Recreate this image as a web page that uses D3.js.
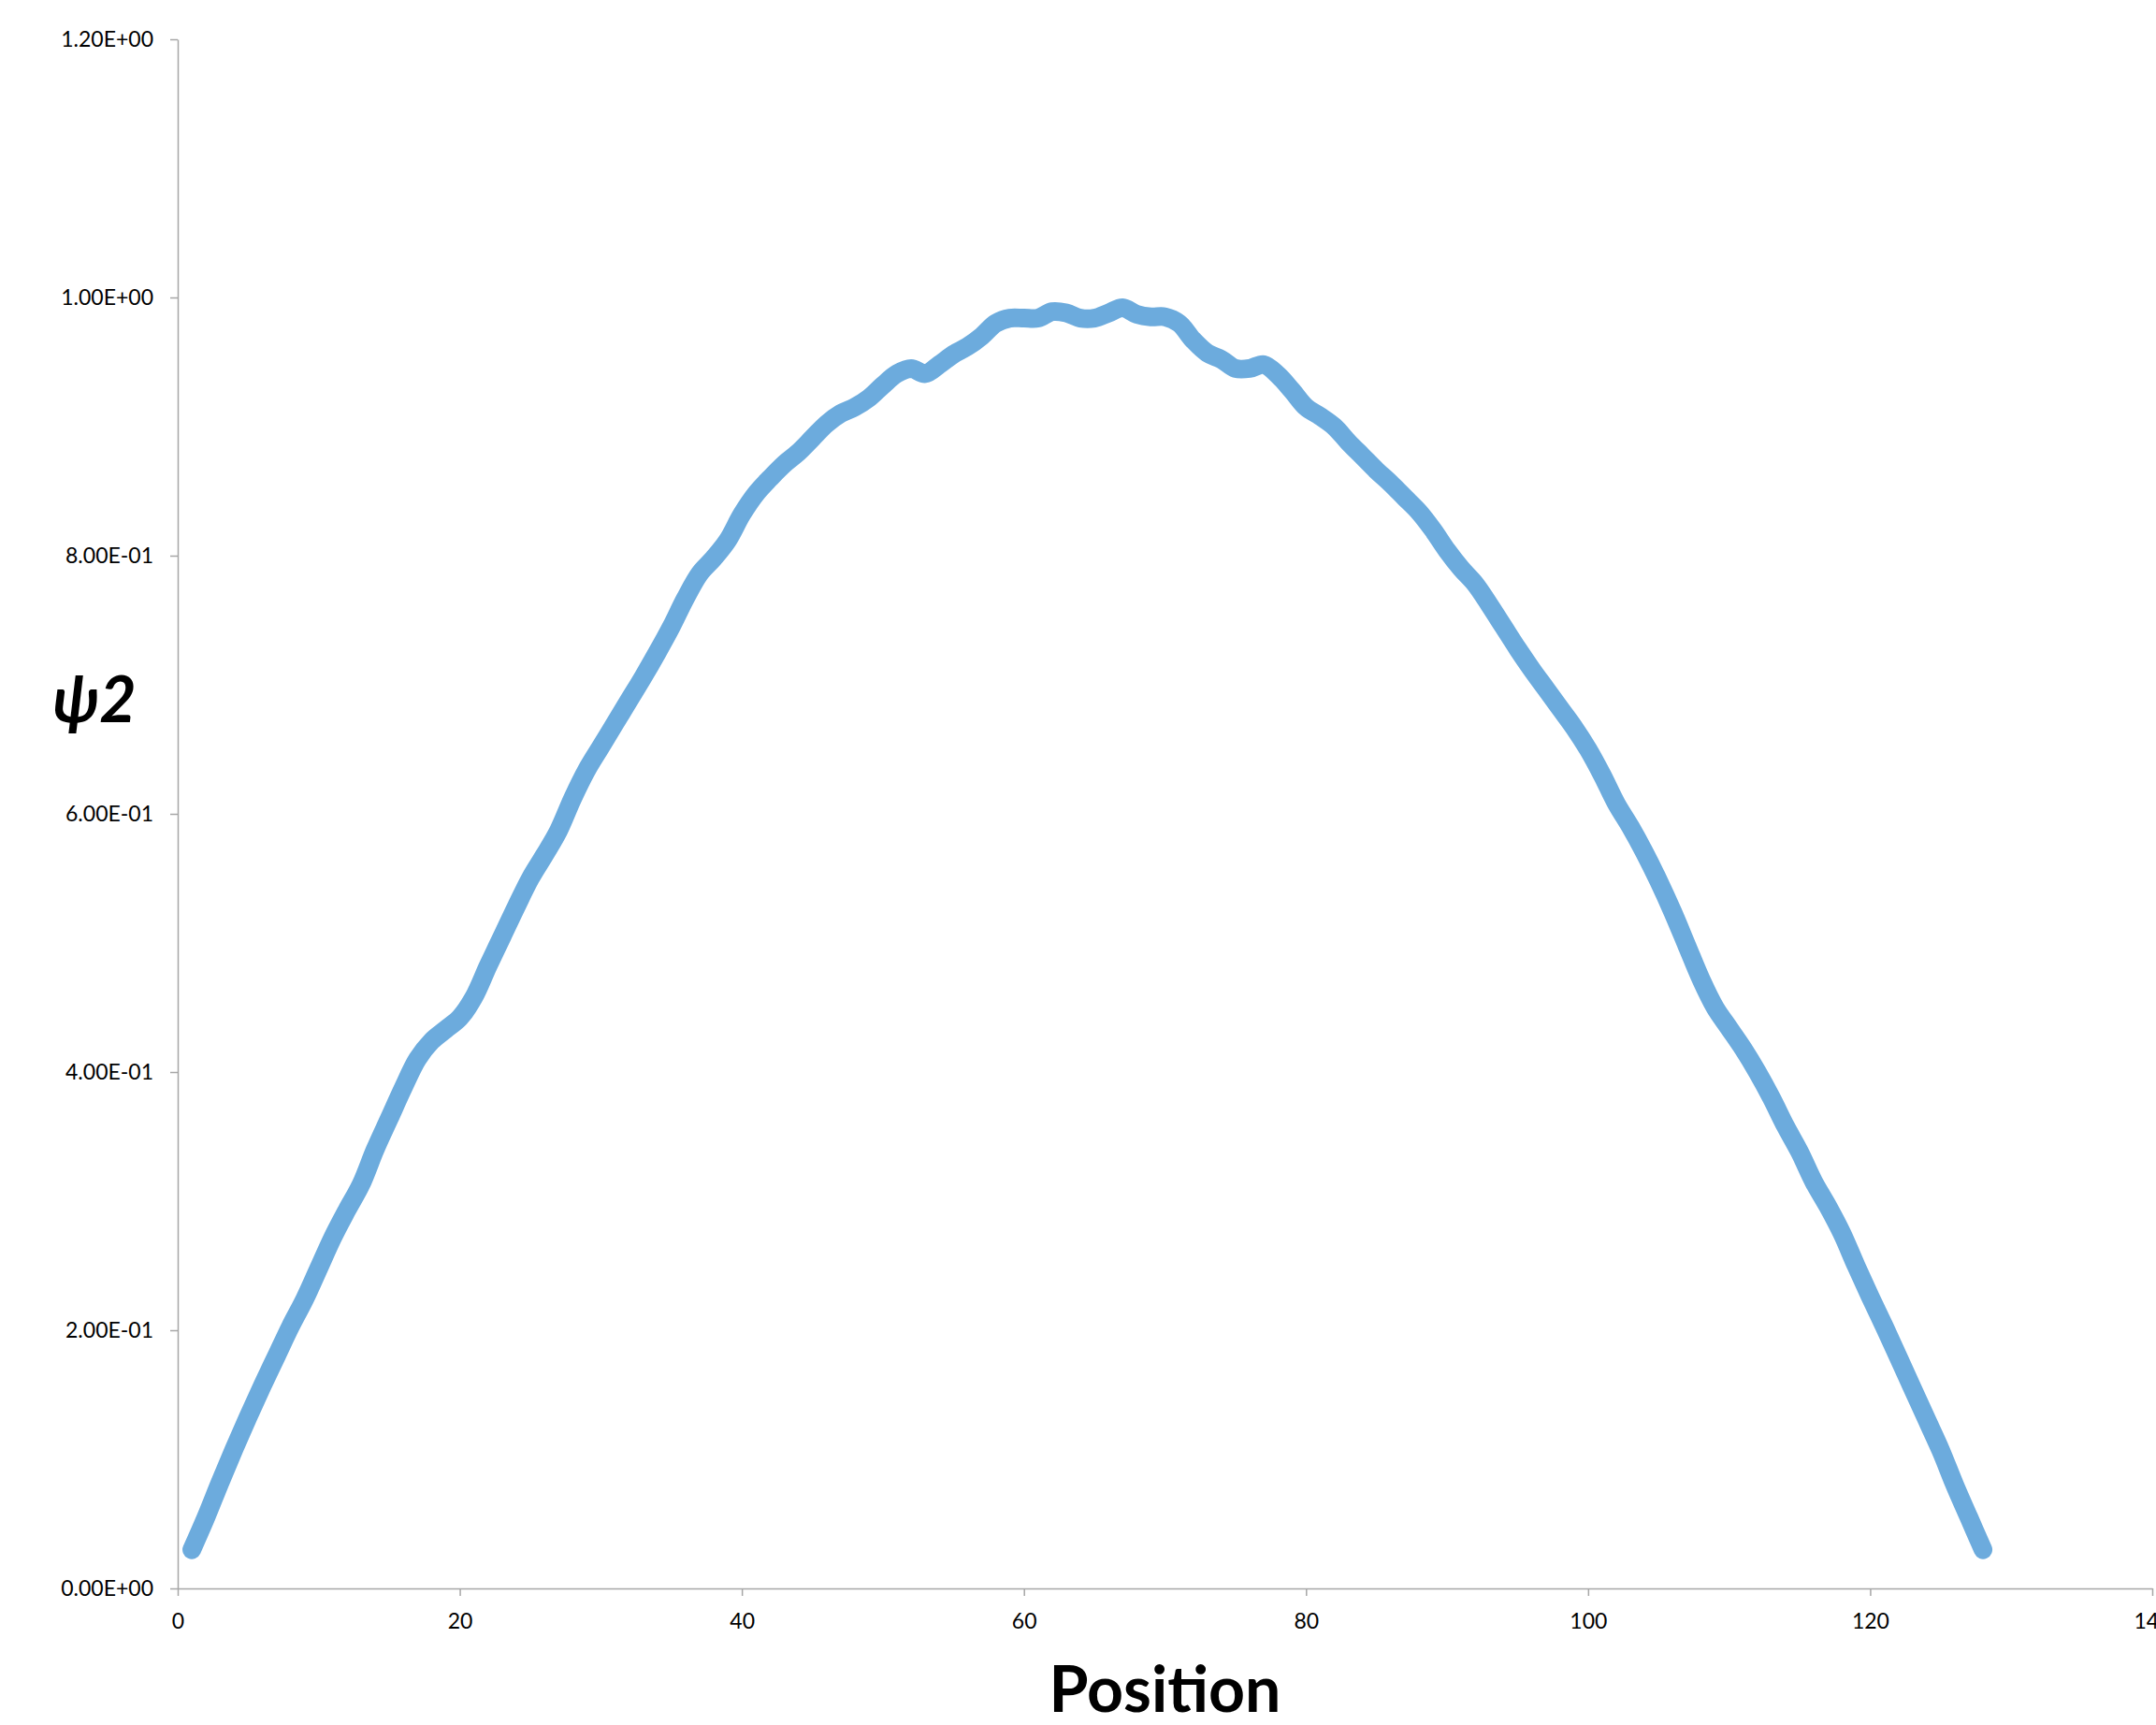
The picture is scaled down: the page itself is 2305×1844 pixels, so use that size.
<!DOCTYPE html>
<html lang="en">
<head>
  <meta charset="utf-8">
  <title>psi2 vs Position</title>
  <script src="https://d3js.org/d3.v7.min.js"></script>
  <style>
    body { margin: 0; background: #fff; }
    .axis path, .axis line { stroke: #a6a6a6; stroke-width: 1.5; }
    .axis text { font-family: Lato, "Open Sans", sans-serif; font-size: 23px; fill: #000; }
    .psi-line { fill: none; stroke: #6cabdd; stroke-width: 20; stroke-linecap: round; stroke-linejoin: round; }
  </style>
</head>
<body>
<script>
  // positions 1..128 and the values
  const positions = d3.range(1, 129);
  const psi2 = [
    0.030, 0.055, 0.082, 0.108, 0.133, 0.157, 0.180, 0.203, 0.224, 0.248,
    0.272, 0.293, 0.313, 0.340, 0.364, 0.388, 0.410, 0.424, 0.433, 0.442,
    0.458, 0.482, 0.505, 0.528, 0.550, 0.568, 0.587, 0.612, 0.634, 0.652,
    0.670, 0.688, 0.706, 0.725, 0.745, 0.767, 0.786, 0.798, 0.812, 0.832,
    0.848, 0.860, 0.871, 0.880, 0.891, 0.902, 0.910, 0.915, 0.922, 0.932,
    0.941, 0.945, 0.941, 0.948, 0.956, 0.962, 0.970, 0.980, 0.984, 0.984,
    0.984, 0.989, 0.988, 0.984, 0.984, 0.988, 0.992, 0.987, 0.985, 0.985,
    0.980, 0.967, 0.957, 0.952, 0.945, 0.945, 0.948, 0.940, 0.928, 0.915,
    0.908, 0.900, 0.888, 0.877, 0.866, 0.856, 0.845, 0.834, 0.820, 0.804,
    0.790, 0.778, 0.762, 0.745, 0.728, 0.712, 0.697, 0.682, 0.667, 0.650,
    0.630, 0.608, 0.590, 0.570, 0.548, 0.524, 0.498, 0.472, 0.450, 0.434,
    0.418, 0.400, 0.380, 0.358, 0.338, 0.315, 0.296, 0.275, 0.250, 0.226,
    0.203, 0.179, 0.155, 0.131, 0.107, 0.080, 0.055, 0.030
  ];
  const xTicks = [0, 20, 40, 60, 80, 100, 120, 140];
  const yTicks = [0, 0.2, 0.4, 0.6, 0.8, 1.0, 1.2];
  const yTickLabels = ["0.00E+00", "2.00E-01", "4.00E-01", "6.00E-01", "8.00E-01", "1.00E+00", "1.20E+00"];

  const width = 2305, height = 1844;
  const plotLeft = 190, plotRight = 2301, plotTop = 42, plotBottom = 1698;

  const svg = d3.select("body").append("svg")
    .attr("width", width)
    .attr("height", height);

  const x = d3.scaleLinear().domain([0, 140]).range([plotLeft, plotRight]);
  const y = d3.scaleLinear().domain([0, 1.2]).range([plotBottom, plotTop]);

  // axes
  svg.append("g")
    .attr("class", "axis")
    .attr("transform", "translate(0," + plotBottom + ")")
    .call(d3.axisBottom(x).tickValues(xTicks).tickSize(8).tickSizeOuter(0).tickPadding(19));

  svg.append("g")
    .attr("class", "axis")
    .attr("transform", "translate(" + plotLeft + ",0)")
    .call(d3.axisLeft(y).tickValues(yTicks).tickSize(8).tickSizeOuter(0).tickPadding(18)
      .tickFormat((d, i) => yTickLabels[i]));

  // the curve
  const line = d3.line()
    .x((d, i) => x(positions[i]))
    .y(d => y(d))
    .curve(d3.curveCatmullRom);

  svg.append("path")
    .datum(psi2)
    .attr("class", "psi-line")
    .attr("d", line);

  // axis titles
  svg.append("text")
    .attr("x", (plotLeft + plotRight) / 2)
    .attr("y", 1830)
    .attr("text-anchor", "middle")
    .style("font-family", "Lato, 'Open Sans', sans-serif")
    .style("font-weight", "bold")
    .style("font-size", "68px")
    .text("Position");

  svg.append("text")
    .attr("x", 101)
    .attr("y", 772)
    .attr("text-anchor", "middle")
    .style("font-family", "Lato, 'DejaVu Sans', sans-serif")
    .style("font-weight", "bold")
    .style("font-style", "italic")
    .style("font-size", "68px")
    .text("ψ2");
</script>
</body>
</html>
